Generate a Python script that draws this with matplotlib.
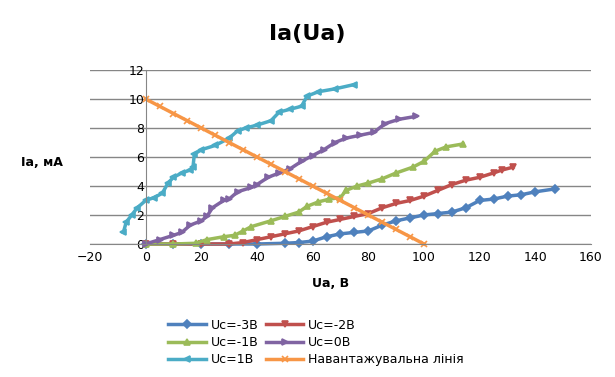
import matplotlib.pyplot as plt

# ---- data ----
ua_m3 = [0, 10, 20, 30, 40, 50, 55, 60, 65, 70, 75, 80, 85, 90, 95, 100,
         105, 110, 115, 120, 125, 130, 135, 140, 147]
ia_m3 = [0, 0, 0, 0, 0, 0.05, 0.1, 0.2, 0.5, 0.7, 0.8, 0.9, 1.3, 1.6, 1.8, 2.0,
         2.1, 2.2, 2.5, 3.0, 3.1, 3.3, 3.4, 3.6, 3.8]

ua_m2 = [0, 10, 20, 30, 35, 40, 45, 50, 55, 60, 65, 70, 75, 80, 85, 90, 95,
         100, 105, 110, 115, 120, 125, 128, 132]
ia_m2 = [0, 0, 0, 0, 0.1, 0.3, 0.5, 0.7, 0.9, 1.2, 1.5, 1.7, 1.9, 2.1, 2.5, 2.8, 3.0,
         3.3, 3.7, 4.1, 4.4, 4.6, 4.9, 5.1, 5.3]

ua_m1 = [0, 10, 18, 22, 28, 32, 35, 38, 45, 50, 55, 58, 62, 66, 70, 72, 76, 80,
         85, 90, 96, 100, 104, 108, 114]
ia_m1 = [0, 0, 0.05, 0.3, 0.5, 0.6, 0.9, 1.2, 1.6, 1.9, 2.2, 2.6, 2.9, 3.1, 3.2, 3.7, 4.0, 4.2,
         4.5, 4.9, 5.3, 5.7, 6.4, 6.7, 6.9]

ua_0 = [0, 5, 10, 13, 16, 20, 22, 24, 28, 30, 33, 38, 40, 44, 48, 52, 56, 60,
        64, 68, 72, 77, 82, 86, 91, 97]
ia_0 = [0, 0.3, 0.6, 0.8, 1.3, 1.6, 1.9, 2.5, 3.0, 3.1, 3.6, 3.9, 4.1, 4.6, 4.9, 5.2, 5.7, 6.1,
        6.5, 7.0, 7.3, 7.5, 7.7, 8.3, 8.6, 8.8]

ua_p1 = [-8, -7, -5, -3, 0, 3, 6, 8, 10, 13, 16, 17, 17.5, 20, 25, 30, 33, 36,
         40, 45, 48, 52, 56, 58, 62, 68, 75]
ia_p1 = [0.8, 1.5, 2.0, 2.5, 3.0, 3.2, 3.5, 4.2, 4.6, 4.9, 5.1, 5.3, 6.2, 6.5, 6.8, 7.3, 7.8, 8.0,
         8.2, 8.5, 9.1, 9.3, 9.5, 10.2, 10.5, 10.7, 11.0]

ua_load = [0, 5, 10, 15, 20, 25, 30, 35, 40, 45, 50, 55, 60, 65, 70, 75, 80, 85, 90, 95, 100]
ia_load = [10, 9.5, 9, 8.5, 8, 7.5, 7, 6.5, 6, 5.5, 5, 4.5, 4, 3.5, 3, 2.5, 2, 1.5, 1, 0.5, 0]

fig = plt.figure(figsize=(6.15, 3.77), dpi=100)
ax = fig.add_axes([0.1463, 0.3528, 0.8147, 0.4615])

series = [
    (ua_m3, ia_m3, 'Uc=-3B', '#4F81BD', 'D'),
    (ua_m2, ia_m2, 'Uc=-2B', '#C0504D', 'v'),
    (ua_m1, ia_m1, 'Uc=-1B', '#9BBB59', '^'),
    (ua_0, ia_0, 'Uc=0B', '#8064A2', '>'),
    (ua_p1, ia_p1, 'Uc=1B', '#4BACC6', '<'),
    (ua_load, ia_load, 'Навантажувальна лінія', '#F79646', 'x'),
]
lines = {}
for x, y, lab, col, mk in series:
    ln, = ax.plot(x, y, color=col, lw=2.5, marker=mk, markersize=4.5,
                  markeredgewidth=1.2, label=lab, clip_on=False)
    lines[lab] = ln

ax.set_xlim(-20, 160)
ax.set_ylim(0, 12)
ax.set_xticks(range(-20, 161, 20))
ax.set_yticks(range(0, 13, 2))
ax.yaxis.grid(True, color='#868686', lw=1)
ax.set_axisbelow(True)
ax.spines['left'].set_position(('data', 0))
ax.spines['left'].set_color('#868686')
ax.spines['bottom'].set_color('#868686')
ax.spines['top'].set_visible(False)
ax.spines['right'].set_visible(False)
ax.tick_params(axis='both', length=0, labelsize=9)
ax.tick_params(axis='y', pad=1)
ax.tick_params(axis='x', pad=5)

fig.text(0.5, 0.91, 'Ia(Ua)', ha='center', va='center', fontsize=16, fontweight='bold')
fig.text(0.538, 0.247, 'Ua, B', ha='center', va='center', fontsize=9, fontweight='bold')
fig.text(0.068, 0.568, 'Ia, мА', ha='center', va='center', fontsize=9, fontweight='bold')

order = ['Uc=-3B', 'Uc=-1B', 'Uc=1B', 'Uc=-2B', 'Uc=0B', 'Навантажувальна лінія']
fig.legend([lines[k] for k in order], order, ncol=2, loc='upper left',
           bbox_to_anchor=(0.255, 0.185), frameon=False, fontsize=9,
           handlelength=3, columnspacing=0.6, labelspacing=0.35, handletextpad=0.4)

fig.savefig('out.png', dpi=100)
